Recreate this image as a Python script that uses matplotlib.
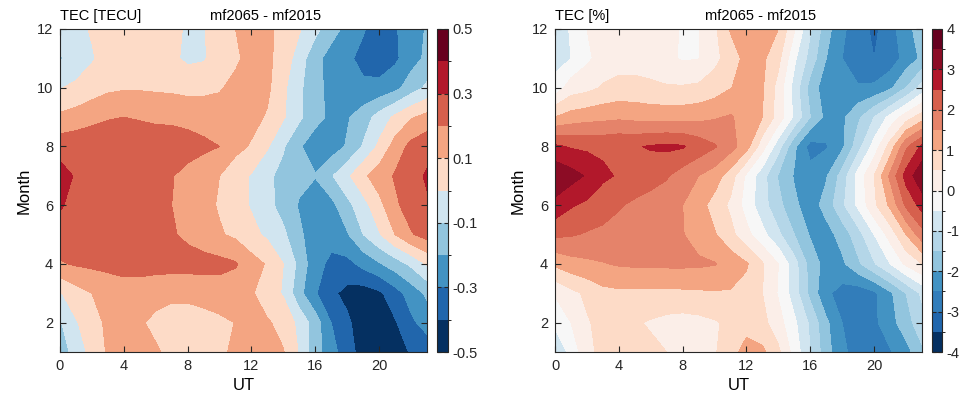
import numpy as np
import matplotlib
matplotlib.use("Agg")
import matplotlib.pyplot as plt
from matplotlib.colors import ListedColormap, BoundaryNorm

plt.rcParams["font.family"] = ["Liberation Sans", "DejaVu Sans"]
plt.rcParams["axes.unicode_minus"] = False

# grid: UT hours and months
ut = np.arange(0, 24)
month = np.arange(1, 13)

# TEC difference [TECU], one row per month (Jan..Dec), one column per UT hour
tec_abs = [
    [-0.14, -0.07, 0.04, 0.11, 0.13, 0.13, 0.11, 0.08, 0.05, 0.05, 0.08, 0.12, 0.15, 0.14, 0.105, -0.01, -0.16, -0.26, -0.36, -0.44, -0.47, -0.45, -0.39, -0.36],
    [-0.11, -0.01, 0.06, 0.12, 0.14, 0.11, 0.08, 0.06, 0.06, 0.07, 0.08, 0.102, 0.13, 0.11, 0.07, -0.03, -0.15, -0.30, -0.38, -0.46, -0.45, -0.41, -0.32, -0.26],
    [-0.01, 0.06, 0.10, 0.13, 0.15, 0.15, 0.13, 0.12, 0.12, 0.13, 0.15, 0.14, 0.11, 0.05, -0.01, -0.17, -0.29, -0.38, -0.43, -0.45, -0.42, -0.34, -0.26, -0.18],
    [0.19, 0.21, 0.22, 0.23, 0.24, 0.24, 0.24, 0.24, 0.24, 0.24, 0.23, 0.21, 0.14, 0.09, 0.0, -0.13, -0.27, -0.32, -0.33, -0.27, -0.21, -0.15, -0.08, 0.01],
    [0.26, 0.26, 0.26, 0.26, 0.26, 0.25, 0.24, 0.21, 0.18, 0.14, 0.11, 0.08, 0.03, -0.02, -0.08, -0.18, -0.26, -0.27, -0.21, -0.10, -0.01, 0.10, 0.19, 0.24],
    [0.31, 0.27, 0.26, 0.26, 0.26, 0.25, 0.23, 0.20, 0.17, 0.13, 0.09, 0.04, -0.01, -0.07, -0.14, -0.21, -0.26, -0.23, -0.13, -0.04, 0.07, 0.18, 0.25, 0.29],
    [0.34, 0.29, 0.28, 0.28, 0.28, 0.27, 0.25, 0.205, 0.17, 0.14, 0.10, 0.04, -0.01, -0.08, -0.13, -0.17, -0.195, -0.11, -0.02, 0.08, 0.15, 0.21, 0.27, 0.31],
    [0.26, 0.27, 0.27, 0.28, 0.28, 0.27, 0.26, 0.25, 0.24, 0.22, 0.20, 0.13, 0.09, 0.01, -0.09, -0.19, -0.25, -0.25, -0.19, -0.09, 0.02, 0.14, 0.23, 0.27],
    [0.12, 0.14, 0.17, 0.19, 0.20, 0.19, 0.18, 0.18, 0.17, 0.16, 0.15, 0.14, 0.13, 0.09, 0.01, -0.08, -0.17, -0.22, -0.21, -0.15, -0.06, 0.02, 0.09, 0.13],
    [-0.005, 0.02, 0.05, 0.08, 0.09, 0.09, 0.085, 0.08, 0.07, 0.075, 0.09, 0.13, 0.16, 0.12, 0.02, -0.08, -0.17, -0.23, -0.26, -0.28, -0.27, -0.23, -0.15, -0.08],
    [-0.11, -0.06, -0.01, 0.04, 0.06, 0.06, 0.05, 0.02, -0.02, -0.01, 0.05, 0.08, 0.14, 0.12, 0.06, -0.05, -0.17, -0.24, -0.28, -0.33, -0.36, -0.32, -0.24, -0.18],
    [-0.05, -0.03, 0.01, 0.05, 0.06, 0.06, 0.04, 0.02, -0.01, -0.01, 0.07, 0.10, 0.15, 0.12, 0.07, 0.01, -0.07, -0.16, -0.23, -0.29, -0.36, -0.31, -0.25, -0.19],
]

# TEC difference [%]
tec_rel = [
    [-0.9, -0.35, 0.35, 0.65, 0.7, 0.7, 0.6, 0.5, 0.35, 0.3, 0.45, 0.8, 1.2, 1.1, 0.6, -0.2, -1.0, -1.8, -2.4, -2.7, -2.85, -2.55, -2.2, -1.6],
    [-0.4, 0.0, 0.45, 0.65, 0.6, 0.55, 0.45, 0.35, 0.3, 0.35, 0.45, 0.6, 0.8, 0.65, 0.2, -0.4, -1.1, -1.9, -2.5, -2.8, -2.6, -2.2, -1.7, -1.2],
    [0.05, 0.35, 0.6, 0.85, 0.9, 0.9, 0.88, 0.88, 0.9, 0.92, 0.95, 0.95, 0.85, 0.5, -0.05, -0.75, -1.65, -2.4, -2.7, -2.8, -2.6, -2.1, -1.5, -0.9],
    [1.1, 1.3, 1.4, 1.47, 1.55, 1.58, 1.6, 1.6, 1.6, 1.58, 1.53, 1.3, 1.05, 0.55, 0.0, -0.8, -1.7, -2.2, -2.1, -1.6, -1.05, -0.5, 0.1, 0.5],
    [2.1, 2.05, 1.95, 1.9, 1.8, 1.75, 1.7, 1.6, 1.52, 1.3, 1.05, 0.65, 0.15, -0.35, -0.9, -1.5, -2.05, -2.2, -1.8, -1.2, -0.5, 0.2, 1.0, 1.8],
    [2.85, 2.55, 2.4, 2.2, 2.05, 1.9, 1.8, 1.7, 1.5, 1.2, 0.8, 0.4, -0.2, -0.8, -1.35, -1.9, -2.25, -1.8, -1.1, -0.4, 0.4, 1.1, 2.1, 2.7],
    [3.4, 3.2, 2.95, 2.6, 2.45, 2.35, 2.2, 2.05, 1.75, 1.5, 1.25, 0.75, -0.1, -0.8, -1.55, -2.05, -2.3, -2.05, -1.3, -0.3, 0.5, 1.6, 2.7, 3.4],
    [2.6, 2.45, 2.4, 2.4, 2.45, 2.45, 2.55, 2.6, 2.55, 2.3, 2.05, 1.7, 1.2, 0.2, -0.8, -1.9, -2.7, -2.55, -2.1, -1.2, -0.3, 0.7, 1.9, 2.6],
    [1.0, 1.2, 1.3, 1.35, 1.4, 1.35, 1.3, 1.3, 1.3, 1.35, 1.45, 1.55, 1.3, 1.0, 0.3, -0.6, -1.5, -2.15, -2.1, -1.6, -1.0, -0.35, 0.25, 0.75],
    [-0.3, 0.25, 0.35, 0.55, 0.65, 0.65, 0.6, 0.55, 0.55, 0.6, 0.75, 0.98, 1.2, 1.05, 0.3, -0.7, -1.7, -2.3, -2.45, -2.45, -2.4, -2.1, -1.5, -0.8],
    [-0.7, -0.5, -0.1, 0.2, 0.3, 0.3, 0.25, 0.1, -0.05, -0.02, 0.35, 0.75, 1.15, 1.1, 0.65, -0.4, -1.2, -2.0, -2.5, -2.85, -3.0, -2.8, -2.3, -1.9],
    [-0.8, -0.45, 0.0, 0.2, 0.3, 0.3, 0.25, 0.15, -0.05, -0.02, 0.4, 1.05, 1.3, 1.25, 1.0, 0.05, -0.95, -1.8, -2.4, -2.8, -3.1, -2.75, -2.1, -1.85],
]

levels_abs = np.linspace(-0.5, 0.5, 11)
levels_rel = np.linspace(-4, 4, 17)

colors_abs = ["#053061", "#2166ac", "#4393c3", "#92c5de", "#d1e5f0",
              "#fddbc7", "#f4a582", "#d6604d", "#b2182b", "#67001f"]
colors_rel = ["#053061", "#2166ac", "#327dba", "#4393c3", "#92c5de", "#b4d6e8",
              "#d1e5f0", "#f7f7f7", "#fbeee8", "#fddbc7", "#f4a582", "#e5836a",
              "#d6604d", "#b2182b", "#8c0c25", "#67001f"]

W, H = 969, 397
fig = plt.figure(figsize=(W / 100, H / 100), dpi=100)


def panel(x0, cbx, cbw, data, levels, colors, ticks, ticklabels, unit):
    ax = fig.add_axes([x0 / W, 45 / H, 367 / W, 323 / H])
    cax = fig.add_axes([cbx / W, 45 / H, cbw / W, 323 / H])
    cmap = ListedColormap(colors)
    norm = BoundaryNorm(levels, cmap.N)
    cs = ax.contourf(ut, month, np.array(data), levels=levels, cmap=cmap, norm=norm)
    ax.set_xlim(0, 23)
    ax.set_ylim(1, 12)
    ax.set_xticks([0, 4, 8, 12, 16, 20])
    ax.set_yticks([2, 4, 6, 8, 10, 12])
    ax.tick_params(direction="in", top=True, right=True, length=4, width=0.8,
                   labelsize=10.5, pad=5, colors="#262626")
    for s in ax.spines.values():
        s.set_linewidth(0.8)
        s.set_color("#262626")
    ax.set_xlabel("UT", fontsize=12, labelpad=4)
    ax.set_ylabel("Month", fontsize=12, labelpad=4)

    cb = fig.colorbar(cs, cax=cax, ticks=ticks)
    cb.ax.set_yticklabels(ticklabels)
    cb.ax.tick_params(direction="in", length=3, width=0.8, labelsize=10.5, pad=3,
                      colors="#262626", left=True)
    cb.outline.set_linewidth(0.8)
    cb.outline.set_edgecolor("#262626")

    fig.text(x0 / W, 1 - 16 / H, unit, ha="left", va="center", fontsize=10.5)
    fig.text((x0 + 206) / W, 1 - 16 / H, "mf2065 - mf2015", ha="center",
             va="center", fontsize=10.5)
    return ax


panel(60, 437, 11, tec_abs, levels_abs, colors_abs,
      [0.5, 0.3, 0.1, -0.1, -0.3, -0.5],
      ["0.5", "0.3", "0.1", "-0.1", "-0.3", "-0.5"], "TEC [TECU]")
panel(555, 932, 10, tec_rel, levels_rel, colors_rel,
      [4, 3, 2, 1, 0, -1, -2, -3, -4],
      ["4", "3", "2", "1", "0", "-1", "-2", "-3", "-4"], "TEC [%]")

fig.savefig("out.png", dpi=100)
